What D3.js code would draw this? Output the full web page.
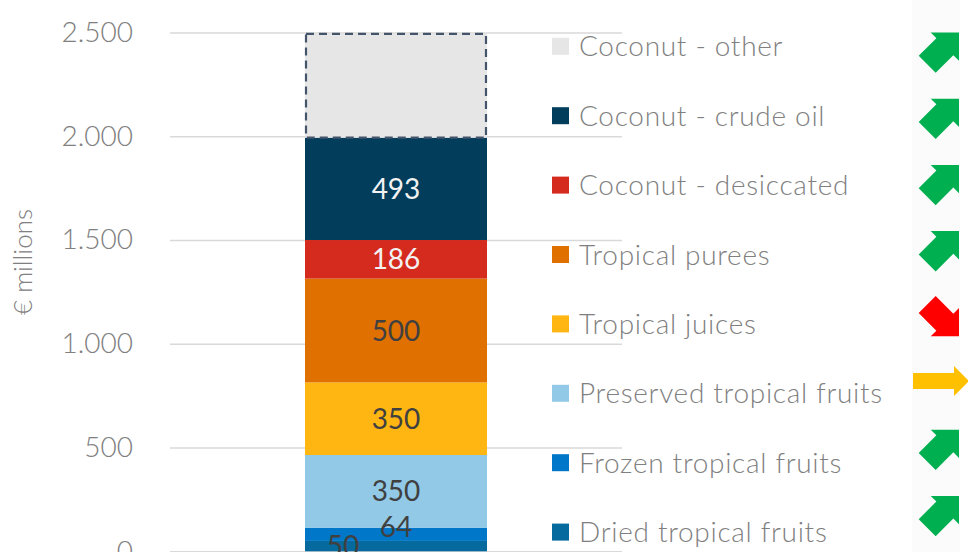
<!DOCTYPE html>
<html>
<head>
<meta charset="utf-8">
<script src="https://cdn.jsdelivr.net/npm/d3@7"></script>
<style>
  body { margin: 0; background: #fff; }
  svg { display: block; font-family: Lato, "Open Sans", sans-serif; }
</style>
</head>
<body>
<div id="chart"></div>
<script>
// chart size
var svgWidth = 968;
var svgHeight = 552;

// data (bottom to top of the stack)
var categories = [
  "Dried tropical fruits",
  "Frozen tropical fruits",
  "Preserved tropical fruits",
  "Tropical juices",
  "Tropical purees",
  "Coconut - desiccated",
  "Coconut - crude oil",
  "Coconut - other"
];
var values = [50, 64, 350, 350, 500, 186, 493, 500];
var showLabel = [true, true, true, true, true, true, true, false];
var trends = ["up", "up", "flat", "down", "up", "up", "up", "up"];
var yTicks = [0, 500, 1000, 1500, 2000, 2500];

var colors = ["#076a9e", "#0077c8", "#91c9e7", "#ffb612", "#e07000", "#d52b1e", "#033d5c", "#e6e6e6"];
var labelColors = ["#404040", "#404040", "#404040", "#404040", "#404040", "#f2f2f2", "#f2f2f2", "#404040"];

var svg = d3.select("#chart")
  .append("svg")
  .attr("width", svgWidth)
  .attr("height", svgHeight);

// y scale
var yScale = d3.scaleLinear()
  .domain([0, 2500])
  .range([551.3, 32.5]);

var locale = d3.formatLocale({decimal: ",", thousands: ".", grouping: [3], currency: ["€", ""]});

// axis with gridlines
var yAxis = svg.append("g")
  .attr("transform", "translate(170,0)")
  .call(d3.axisLeft(yScale)
    .tickValues(yTicks)
    .tickSizeInner(-452)
    .tickSizeOuter(0)
    .tickPadding(37)
    .tickFormat(locale.format(",")));

yAxis.select(".domain").remove();
yAxis.selectAll(".tick line")
  .attr("stroke", "#d9d9d9")
  .attr("stroke-width", 1.5);
yAxis.selectAll(".tick text")
  .attr("fill", "#808080")
  .attr("font-size", 28)
  .attr("font-weight", 300)
  .attr("font-family", "Lato, sans-serif");

// y title
svg.append("text")
  .attr("transform", "translate(32,262) rotate(-90)")
  .attr("text-anchor", "middle")
  .attr("fill", "#808080")
  .attr("font-size", 26)
  .attr("font-weight", 300)
  .text("€ millions");

// stack the values
var stackData = [];
var cum = 0;
values.forEach(function(v, i) {
  stackData.push({name: categories[i], value: v, y0: cum, y1: cum + v, i: i});
  cum += v;
});

var barX = 305;
var barW = 182;

var bars = svg.append("g");
bars.selectAll("rect")
  .data(stackData)
  .enter()
  .append("rect")
  .attr("x", barX)
  .attr("width", barW)
  .attr("y", d => yScale(d.y1))
  .attr("height", d => yScale(d.y0) - yScale(d.y1))
  .attr("fill", d => colors[d.i]);

// dashed outline for "other"
var other = stackData[stackData.length - 1];
bars.append("rect")
  .attr("x", barX + 1)
  .attr("width", barW - 2)
  .attr("y", yScale(other.y1))
  .attr("height", yScale(other.y0) - yScale(other.y1))
  .attr("fill", "none")
  .attr("stroke", "#44546a")
  .attr("stroke-width", 2.2)
  .attr("stroke-dasharray", "8,5");

// data labels
svg.append("g")
  .selectAll("text")
  .data(stackData.filter(d => showLabel[d.i]))
  .enter()
  .append("text")
  .attr("x", d => barX + barW / 2 + (d.value < 60 ? -53 : 0))
  .attr("y", d => yScale((d.y0 + d.y1) / 2) + (d.value < 100 && d.value >= 60 ? -7 : 0))
  .attr("dy", "0.36em")
  .attr("text-anchor", "middle")
  .attr("font-size", 28)
  .attr("fill", d => labelColors[d.i])
  .text(d => d.value);

// legend (top row = top of stack)
var legendData = stackData.slice().reverse();
var legend = svg.append("g");
var rowY = d => 46.3 + legendData.indexOf(d) * 69.4;

legend.selectAll("rect")
  .data(legendData)
  .enter()
  .append("rect")
  .attr("x", 552)
  .attr("y", d => rowY(d) - 8.5)
  .attr("width", 17)
  .attr("height", 17)
  .attr("fill", d => colors[d.i]);

legend.selectAll("text")
  .data(legendData)
  .enter()
  .append("text")
  .attr("x", 579)
  .attr("y", rowY)
  .attr("dy", "0.36em")
  .attr("font-size", 28)
  .attr("font-weight", 300)
  .attr("letter-spacing", 0.7)
  .attr("fill", "#808080")
  .text(d => d.name);

// trend arrows column
svg.append("rect")
  .attr("x", 912)
  .attr("y", 0)
  .attr("width", 48)
  .attr("height", svgHeight)
  .attr("fill", "#fbfbfb");

function arrowPath(a, s, T) {
  return "M0,0 L" + (-a) + "," + (-a) + " L" + (-a) + "," + (-s) +
    " L" + (-T) + "," + (-s) + " L" + (-T) + "," + s +
    " L" + (-a) + "," + s + " L" + (-a) + "," + a + " Z";
}

var arrows = svg.append("g");
legendData.forEach(function(d, k) {
  var t = trends[d.i];
  var cy = 52 + k * 66.2;
  if (t === "up") {
    arrows.append("path")
      .attr("d", arrowPath(20, 12, 45))
      .attr("transform", "translate(959," + (cy - 19.5) + ") rotate(-45)")
      .attr("fill", "#00b050");
  } else if (t === "down") {
    arrows.append("path")
      .attr("d", arrowPath(20, 12, 45))
      .attr("transform", "translate(959," + (cy + 19.5) + ") rotate(45)")
      .attr("fill", "#ff0000");
  } else {
    arrows.append("path")
      .attr("d", arrowPath(15, 8, 56))
      .attr("transform", "translate(969," + (cy - 2) + ")")
      .attr("fill", "#ffc000");
  }
});
</script>
</body>
</html>
